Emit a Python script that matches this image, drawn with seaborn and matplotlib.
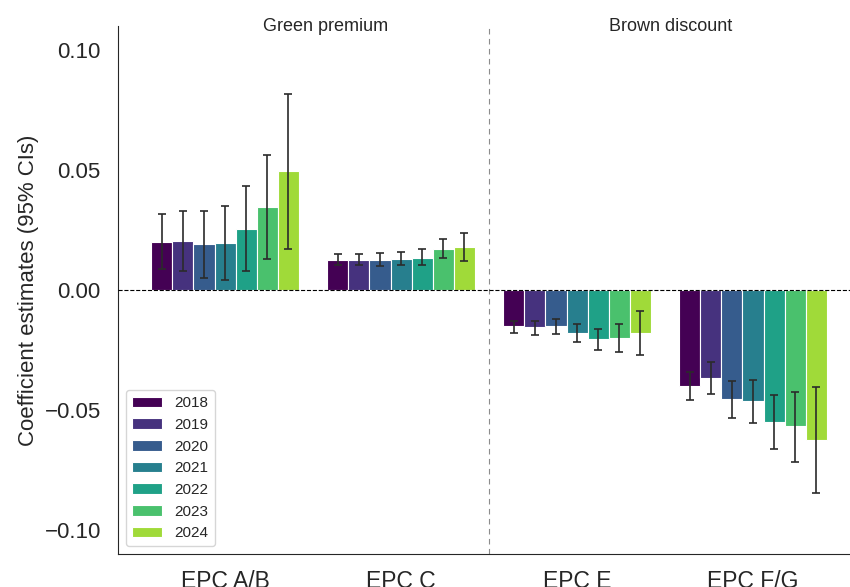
import numpy as np
import pandas as pd
import matplotlib
matplotlib.use("Agg")
import matplotlib.pyplot as plt
import seaborn as sns

categories = ["EPC A/B", "EPC C", "EPC E", "EPC F/G"]
years = ["2018", "2019", "2020", "2021", "2022", "2023", "2024"]

ab_est = [0.0201, 0.0204, 0.0190, 0.0194, 0.0254, 0.0344, 0.0494]
ab_lo = [0.0087, 0.0078, 0.0051, 0.0043, 0.0078, 0.0129, 0.0172]
ab_hi = [0.0318, 0.0330, 0.0330, 0.0351, 0.0435, 0.0564, 0.0817]

c_est = [0.0124, 0.0124, 0.0124, 0.0128, 0.0135, 0.0170, 0.0178]
c_lo = [0.0106, 0.0104, 0.0100, 0.0103, 0.0104, 0.0132, 0.0121]
c_hi = [0.0151, 0.0151, 0.0153, 0.0158, 0.0170, 0.0212, 0.0239]

e_est = [-0.0151, -0.0154, -0.0151, -0.0179, -0.0206, -0.0199, -0.0178]
e_lo = [-0.0179, -0.0188, -0.0185, -0.0218, -0.0251, -0.0260, -0.0272]
e_hi = [-0.0128, -0.0131, -0.0120, -0.0143, -0.0161, -0.0140, -0.0086]

fg_est = [-0.0400, -0.0365, -0.0454, -0.0462, -0.0549, -0.0567, -0.0624]
fg_lo = [-0.0457, -0.0433, -0.0532, -0.0553, -0.0661, -0.0718, -0.0847]
fg_hi = [-0.0343, -0.0299, -0.0378, -0.0374, -0.0439, -0.0424, -0.0403]

est = [ab_est, c_est, e_est, fg_est]
lo = [ab_lo, c_lo, e_lo, fg_lo]
hi = [ab_hi, c_hi, e_hi, fg_hi]

rows = []
for ci, cat in enumerate(categories):
    for yi, yr in enumerate(years):
        rows.append({"category": cat, "year": yr, "est": est[ci][yi],
                     "lo": lo[ci][yi], "hi": hi[ci][yi]})
df = pd.DataFrame(rows)

sns.set_style("white")
plt.rcParams["font.family"] = ["Liberation Sans", "DejaVu Sans"]

palette = [matplotlib.colors.to_hex(c) for c in plt.cm.viridis(np.linspace(0, 6 / 7, 7))]

fig = plt.figure(figsize=(8.5, 5.87), dpi=100)
ax = fig.add_axes([0.139, 0.0562, 0.861, 0.8995])

sns.barplot(data=df, x="category", y="est", hue="year", order=categories,
            hue_order=years, palette=palette, saturation=1, width=0.84,
            errorbar=None, edgecolor="white", linewidth=0.8, ax=ax)

for container, yr in zip(ax.containers, years):
    for bar, cat in zip(container, categories):
        r = df[(df.category == cat) & (df.year == yr)].iloc[0]
        xc = bar.get_x() + bar.get_width() / 2
        ax.errorbar([xc], [r.est], yerr=[[r.est - r.lo], [r.hi - r.est]],
                    fmt="none", ecolor="#2b2b2b", elinewidth=1.2,
                    capsize=3, capthick=1.2, zorder=5)

ax.axhline(0, color="black", linestyle="--", linewidth=0.8, zorder=4)
ax.axvline(1.5, color="0.55", linestyle=(0, (5, 4)), linewidth=0.8)

ax.set_ylim(-0.11, 0.11)
ax.set_xlim(-0.608, 3.551)
ax.set_yticks([-0.10, -0.05, 0.0, 0.05, 0.10])
ax.set_yticklabels(["\u22120.10", "\u22120.05", "0.00", "0.05", "0.10"])
ax.tick_params(axis="y", labelsize=16, pad=9)
ax.tick_params(axis="x", labelsize=16.5, pad=8)
ax.set_xlabel("")
ax.set_ylabel("Coefficient estimates (95% CIs)", fontsize=16)

ax.text(0.57, 0.11, "Green premium", ha="center", va="center", fontsize=13)
ax.text(2.53, 0.11, "Brown discount", ha="center", va="center", fontsize=13)

sns.despine(ax=ax)
ax.legend(loc="lower left", fontsize=11, title=None, frameon=True)

fig.savefig("out.png", dpi=100)
